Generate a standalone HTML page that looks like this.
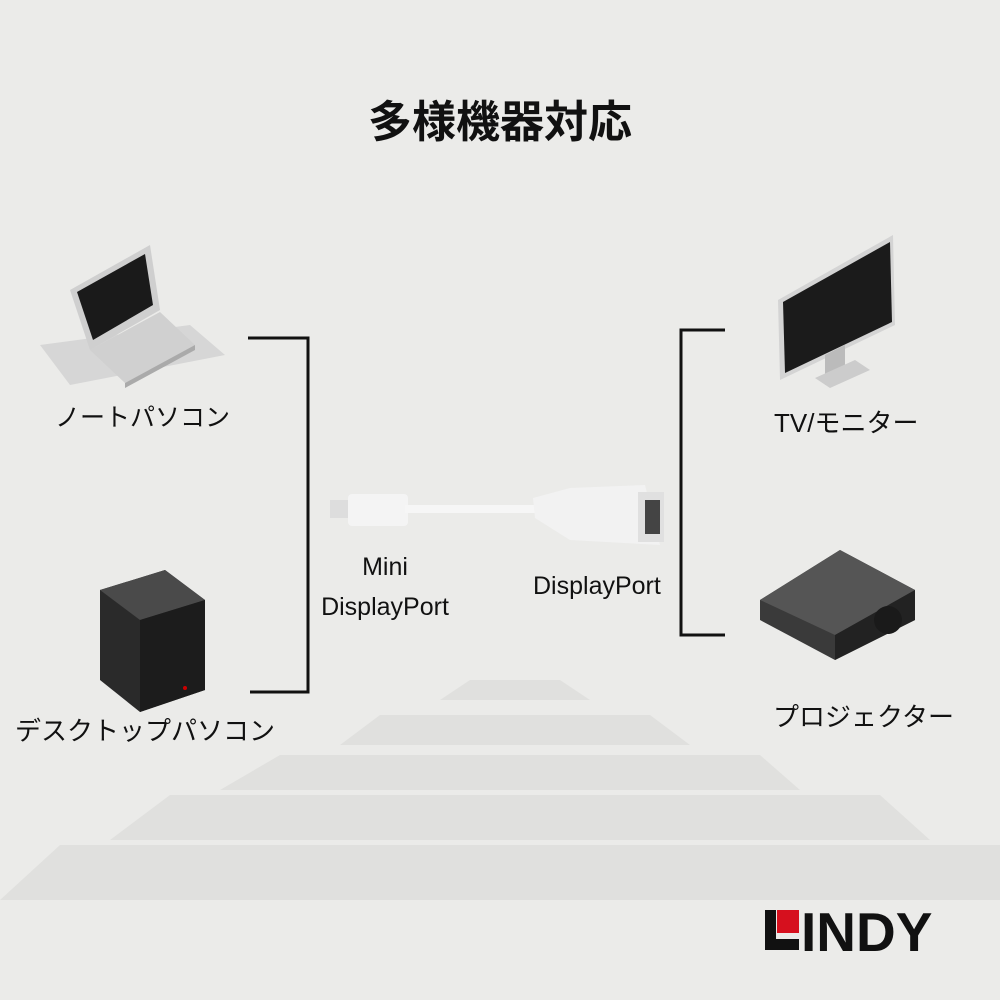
<!DOCTYPE html>
<html><head><meta charset="utf-8"><style>
body{margin:0;width:1000px;height:1000px;background:#ebebe9;overflow:hidden;position:relative;font-family:"Liberation Sans","Noto Sans CJK JP",sans-serif;color:#111}
.t{position:absolute;white-space:nowrap}
</style></head><body>
<svg width="1000" height="1000" style="position:absolute;left:0;top:0">
<g fill="#e0e0de">
<polygon points="470,680 560,680 590,700 440,700"/>
<polygon points="380,715 650,715 690,745 340,745"/>
<polygon points="280,755 760,755 800,790 220,790"/>
<polygon points="170,795 880,795 930,840 110,840"/>
<polygon points="60,845 1000,845 1000,900 0,900"/>
</g>
<g stroke="#111" stroke-width="3" fill="none">
<polyline points="248,338 308,338 308,692 250,692"/>
<polyline points="725,330 681,330 681,635 725,635"/>
</g>
<polygon points="40,345 190,325 225,355 70,385" fill="#d6d6d6"/>
<polygon points="70,290 150,245 160,310 90,350" fill="#cfcfcf"/>
<polygon points="77,292 145,254 153,305 93,340" fill="#1a1a1a"/>
<polygon points="90,350 160,312 195,345 125,383" fill="#d0d0d0"/>
<polygon points="125,383 195,345 195,350 125,388" fill="#aaa"/>
<polygon points="100,590 165,570 205,600 205,690 140,712 100,680" fill="#2a2a2a"/>
<polygon points="100,590 165,570 205,600 140,620" fill="#4a4a4a"/>
<polygon points="140,620 205,600 205,690 140,712" fill="#1c1c1c"/>
<circle cx="185" cy="688" r="2" fill="#c00"/>
<rect x="330" y="500" width="20" height="18" fill="#ddd"/>
<rect x="348" y="494" width="60" height="32" rx="4" fill="#f4f4f4"/>
<rect x="405" y="505" width="130" height="8" fill="#f6f6f6"/>
<polygon points="533,498 570,488 645,485 660,545 570,540 535,518" fill="#f2f2f2"/>
<rect x="638" y="492" width="26" height="50" fill="#e0e0e0"/>
<rect x="645" y="500" width="15" height="34" fill="#444"/>
<polygon points="778,300 893,235 895,325 780,380" fill="#d4d4d4"/>
<polygon points="783,302 890,242 892,322 785,373" fill="#1b1b1b"/>
<polygon points="825,355 845,345 845,375 825,385" fill="#bbb"/>
<polygon points="815,378 855,360 870,370 830,388" fill="#ccc"/>
<polygon points="760,600 840,550 915,590 915,620 835,660 760,620" fill="#3a3a3a"/>
<polygon points="760,600 840,550 915,590 835,635" fill="#555"/>
<polygon points="835,635 915,590 915,620 835,660" fill="#222"/>
<circle cx="888" cy="620" r="14" fill="#1a1a1a"/>
<rect x="765" y="910" width="11" height="40" fill="#111"/>
<rect x="765" y="939" width="34" height="11" fill="#111"/>
<rect x="777" y="910" width="22" height="23" fill="#d6101e"/>
</svg>
<div class="t" style="left:0;width:1000px;text-align:center;top:86px;font-size:44px;font-weight:bold">多様機器対応</div>
<div class="t" style="left:55px;top:398px;font-size:25px">ノートパソコン</div>
<div class="t" style="left:15px;top:711px;font-size:26px">デスクトップパソコン</div>
<div class="t" style="left:774px;top:403px;font-size:26px">TV/モニター</div>
<div class="t" style="left:773px;top:697px;font-size:26px">プロジェクター</div>
<div class="t" style="left:305px;top:547px;width:160px;text-align:center;font-size:25px;line-height:40px">Mini<br>DisplayPort</div>
<div class="t" style="left:533px;top:572px;font-size:25px">DisplayPort</div>
<div class="t" style="left:801px;top:900px;font-size:55px;font-weight:bold;letter-spacing:0px">INDY</div>
</body></html>
